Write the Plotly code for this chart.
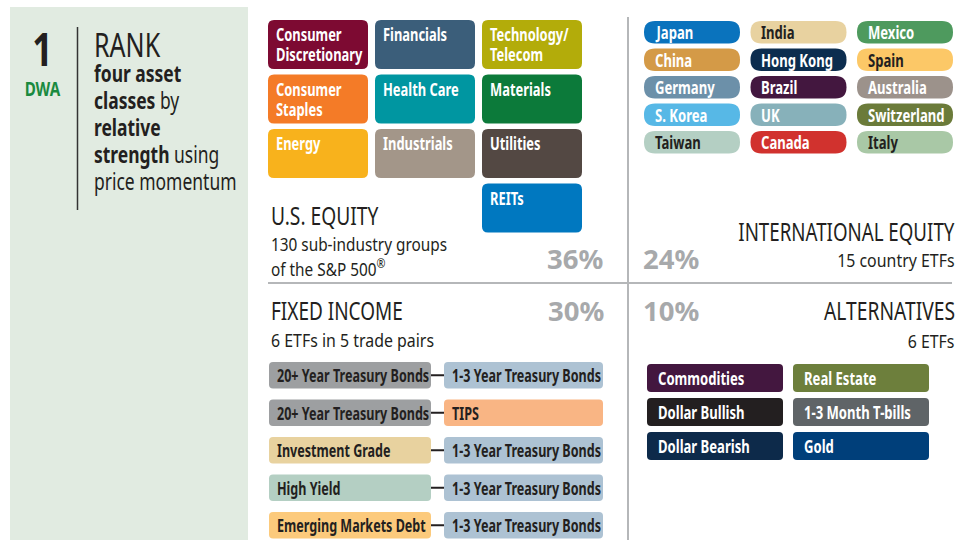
import json
import plotly.graph_objects as go

# ---- data ----
us_sectors = ["Consumer<br>Discretionary", "Financials", "Technology/<br>Telecom",
              "Consumer<br>Staples", "Health Care", "Materials",
              "Energy", "Industrials", "Utilities", None, None, "REITs"]
us_colors = ["#7d0a32", "#3b5e7a", "#b3ac0a",
             "#f47b27", "#0096a1", "#0c7a3a",
             "#f8b21c", "#a39689", "#534843", None, None, "#0078c0"]

countries = ["Japan", "India", "Mexico",
             "China", "Hong Kong", "Spain",
             "Germany", "Brazil", "Australia",
             "S. Korea", "UK", "Switzerland",
             "Taiwan", "Canada", "Italy"]
country_colors = ["#0a73bd", "#e8d2a0", "#4e9a5e",
                  "#d49a47", "#0c2d4f", "#fcc867",
                  "#6c90a9", "#43173f", "#9c928b",
                  "#57b8e6", "#87b1ba", "#6b7b3a",
                  "#b4cfc3", "#d1322e", "#a9c8a6"]
country_dark_text = ["India", "Spain", "Taiwan", "Italy"]

fi_left = ["20+ Year Treasury Bonds", "20+ Year Treasury Bonds", "Investment Grade",
           "High Yield", "Emerging Markets Debt"]
fi_left_colors = ["#9d9fa1", "#9d9fa1", "#e8d29f", "#b4cfc3", "#fcca7c"]
fi_right = ["1-3 Year Treasury Bonds", "TIPS", "1-3 Year Treasury Bonds",
            "1-3 Year Treasury Bonds", "1-3 Year Treasury Bonds"]
fi_right_colors = ["#adc2d3", "#f9b584", "#adc2d3", "#adc2d3", "#adc2d3"]

alts = ["Commodities", "Real Estate", "Dollar Bullish", "1-3 Month T-bills",
        "Dollar Bearish", "Gold"]
alt_colors = ["#43173f", "#6d7f3c", "#231f20", "#5f6467", "#0d2a4a", "#003f7a"]

weights = {"us": 36, "intl": 24, "fi": 30, "alt": 10}

FONT = "Noto Sans, Roboto, sans-serif"
DARK = "#231f20"
GREY = "#a7a9ab"
GREEN = "#1a8a3f"


def rrect(x0, y0, x1, y1, r):
    return (f"M{x0+r},{y0} L{x1-r},{y0} Q{x1},{y0} {x1},{y0+r} L{x1},{y1-r} "
            f"Q{x1},{y1} {x1-r},{y1} L{x0+r},{y1} Q{x0},{y1} {x0},{y1-r} "
            f"L{x0},{y0+r} Q{x0},{y0} {x0+r},{y0} Z")


shapes = []
annots = []
squeeze = []   # horizontal squeeze per annotation (no condensed font installed)
spacing = []   # optional line offsets (px) for multi-line annotations


def box(x0, y0, x1, y1, r, color):
    shapes.append(dict(type="path", path=rrect(x0, y0, x1, y1, r), fillcolor=color,
                       line=dict(width=0), layer="below"))


def text(x, y, s, size, color=DARK, xanchor="left", yanchor="middle", sx=0.8, ls=None):
    annots.append(dict(x=x, y=y, text=s, showarrow=False, xanchor=xanchor, yanchor=yanchor,
                       align=xanchor, font=dict(family=FONT, size=size, color=color)))
    squeeze.append(sx)
    spacing.append(ls)


# left panel
shapes.append(dict(type="rect", x0=10, y0=7, x1=248, y1=540, fillcolor="#e1ebe1",
                   line=dict(width=0), layer="below"))
shapes.append(dict(type="line", x0=77.5, y0=27, x1=77.5, y1=210, line=dict(color="#333333", width=1.5)))
text(42, 14, f"<b><span style='font-size:47px'>1</span></b><br>"
     f"<b><span style='color:{GREEN}'>DWA</span></b>",
     20, xanchor="center", yanchor="top", sx=0.76, ls=[0, 30])
text(92, 20, "<span style='font-size:33px'>RANK</span><br><b>four asset</b><br><b>classes</b> by"
     "<br><b>relative</b><br><b>strength</b> using<br>price momentum",
     23, yanchor="top", sx=0.76, ls=[0, 25.5, 52.5, 79.5, 106.5, 133.5])

# dividers
shapes.append(dict(type="line", x0=628, y0=17, x1=628, y1=540, line=dict(color="#b5b7b9", width=2)))
shapes.append(dict(type="line", x0=268, y0=283, x1=952, y1=283, line=dict(color="#b5b7b9", width=2)))

# US equity tiles
for i, (lab, col) in enumerate(zip(us_sectors, us_colors)):
    if lab is None:
        continue
    c, r = i % 3, i // 3
    x0 = 268 + c * 107
    y0 = 20 + r * 54.5
    box(x0, y0, x0 + 100, y0 + 49, 6, col)
    text(x0 + 5.5, y0 + 1, f"<b>{lab}</b>", 17, color="white", yanchor="top",
         sx=0.76, ls=[0, 20.5])

text(269, 215, "U.S. EQUITY", 26, sx=0.74)
text(269, 243, "130 sub-industry groups", 18.5, sx=0.83)
text(269, 267, "of the S&P 500<sup>®</sup>", 18.5, sx=0.83)
text(605, 258, f"<b>{weights['us']}%</b>", 27.5, color=GREY, xanchor="right", sx=1)

# international pills
for i, (lab, col) in enumerate(zip(countries, country_colors)):
    c, r = i % 3, i // 3
    x0 = 644 + c * 106.5
    y0 = 21 + r * 27.5
    box(x0, y0, x0 + 96, y0 + 22.5, 11, col)
    tc = DARK if lab in country_dark_text else "white"
    text(x0 + 8.5, y0 + 11.5, f"<b>{lab}</b>", 17, color=tc, sx=0.77)

text(957, 231, "INTERNATIONAL EQUITY", 26, xanchor="right", sx=0.72)
text(957, 259, "15 country ETFs", 18.5, xanchor="right", sx=0.86)
text(641, 258, f"<b>{weights['intl']}%</b>", 27.5, color=GREY, sx=1)

# fixed income
text(269, 310, "FIXED INCOME", 26, sx=0.73)
text(269, 339, "6 ETFs in 5 trade pairs", 18.5, sx=0.86)
text(606, 310, f"<b>{weights['fi']}%</b>", 27.5, color=GREY, xanchor="right", sx=1)
for i in range(len(fi_left)):
    y0 = 362 + i * 37.5
    box(269, y0, 431, y0 + 26.5, 4, fi_left_colors[i])
    box(444, y0, 603, y0 + 26.5, 4, fi_right_colors[i])
    shapes.append(dict(type="line", x0=431, y0=y0 + 13.25, x1=444, y1=y0 + 13.25,
                       line=dict(color=DARK, width=2)))
    text(275, y0 + 13.5, f"<b>{fi_left[i]}</b>", 17, sx=0.74)
    text(450, y0 + 13.5, f"<b>{fi_right[i]}</b>", 17, sx=0.74)

# alternatives
text(641, 310, f"<b>{weights['alt']}%</b>", 27.5, color=GREY, sx=1)
text(957, 310, "ALTERNATIVES", 26, xanchor="right", sx=0.74)
text(957, 340, "6 ETFs", 18.5, xanchor="right", sx=0.86)
for i, (lab, col) in enumerate(zip(alts, alt_colors)):
    c, r = i % 2, i // 2
    x0 = 647 + c * 146
    y0 = 364 + r * 34
    box(x0, y0, x0 + 136, y0 + 28, 4, col)
    text(x0 + 9, y0 + 14.5, f"<b>{lab}</b>", 17, color="white", sx=0.77)

fig = go.Figure()
fig.update_layout(width=969, height=540, margin=dict(l=0, r=0, t=0, b=0),
                  paper_bgcolor="white", plot_bgcolor="white", showlegend=False,
                  shapes=shapes, annotations=annots)
fig.update_xaxes(range=[0, 969], visible=False, fixedrange=True)
fig.update_yaxes(range=[540, 0], visible=False, fixedrange=True)

# drop the page's default 8px body margin, tighten line spacing where asked,
# then squeeze each text horizontally around its anchor
post = """
document.body.style.margin = '0';
var sx = %s, ls = %s;
document.querySelectorAll('g.annotation').forEach(function (g) {
  var i = +g.getAttribute('data-index');
  var t = g.querySelector('text.annotation-text');
  if (!t) return;
  if (ls[i]) {
    t.querySelectorAll('tspan.line').forEach(function (ln, k) {
      if (k < ls[i].length) ln.setAttribute('dy', ls[i][k]);
    });
  }
  if (sx[i] === 1) return;
  var b = t.getBBox();
  var a = t.getAttribute('text-anchor');
  var ox = a === 'end' ? b.x + b.width : (a === 'middle' ? b.x + b.width / 2 : b.x);
  t.setAttribute('transform', 'translate(' + ox + ',0) scale(' + sx[i] + ',1) translate(' + (-ox) + ',0)');
});
""" % (json.dumps(squeeze), json.dumps(spacing))
fig.write_html("out.html", post_script=post, config={"staticPlot": True})
